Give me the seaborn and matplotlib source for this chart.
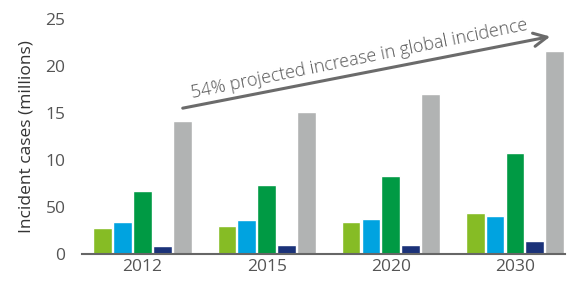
import numpy as np
import pandas as pd
import matplotlib
matplotlib.use('Agg')
import matplotlib.pyplot as plt
import seaborn as sns

# Data
years = ['2012', '2015', '2020', '2030']
series = ['A', 'B', 'C', 'D', 'E']
series_a = [2.8, 3.0, 3.4, 4.3]
series_b = [3.4, 3.6, 3.7, 4.0]
series_c = [6.7, 7.3, 8.3, 10.7]
series_d = [0.8, 0.9, 1.0, 1.4]
series_e = [14.1, 15.1, 17.0, 21.6]
y_ticks = [0, 5, 10, 15, 20, 25]
y_tick_labels = ['0', '50', '10', '15', '20', '25']
colors = ['#86BC25', '#00A3E0', '#009A44', '#1B3279', '#B1B3B3']


def main():
    sns.set_theme(style='white')
    plt.rcParams['font.family'] = ['Open Sans', 'DejaVu Sans']

    values = [series_a, series_b, series_c, series_d, series_e]
    rows = []
    for s, vals in zip(series, values):
        for y, v in zip(years, vals):
            rows.append({'year': y, 'series': s, 'value': v})
    df = pd.DataFrame(rows)

    fig = plt.figure(figsize=(5.7, 2.84), dpi=100)
    ax = fig.add_axes([0.144, 0.106, 0.847, 0.827])
    sns.barplot(data=df, x='year', y='value', hue='series', palette=colors,
                width=0.8, gap=0.06, saturation=1, legend=False, ax=ax)

    ax.set_ylim(0, 25)
    ax.set_xlim(-0.487, 3.402)
    ax.set_yticks(y_ticks)
    ax.set_yticklabels(y_tick_labels)
    ax.set_xlabel('')
    ax.set_ylabel('Incident cases (millions)', fontsize=12.5, color='#333333', labelpad=8)
    ax.tick_params(axis='both', length=0, labelsize=12.5, labelcolor='#555555')
    ax.tick_params(axis='y', pad=12)
    ax.tick_params(axis='x', pad=4)
    for side in ['top', 'right', 'left']:
        ax.spines[side].set_visible(False)
    ax.spines['bottom'].set_color('#666666')
    ax.spines['bottom'].set_linewidth(1.5)

    # projected increase arrow
    ax.annotate('', xy=(553 / 570, 1 - 36 / 284), xytext=(180 / 570, 1 - 108.7 / 284),
                xycoords='figure fraction', textcoords='figure fraction',
                arrowprops=dict(arrowstyle='->', color='#6b6b6b', lw=2.2,
                                mutation_scale=24))
    fig.text(359 / 570, 1 - 59 / 284, '54% projected increase in global incidence',
             rotation=11.5, ha='center', va='center', fontsize=13, color='#555555',
             rotation_mode='anchor', fontweight='light')

    fig.savefig('out.png', dpi=100)


if __name__ == '__main__':
    main()
